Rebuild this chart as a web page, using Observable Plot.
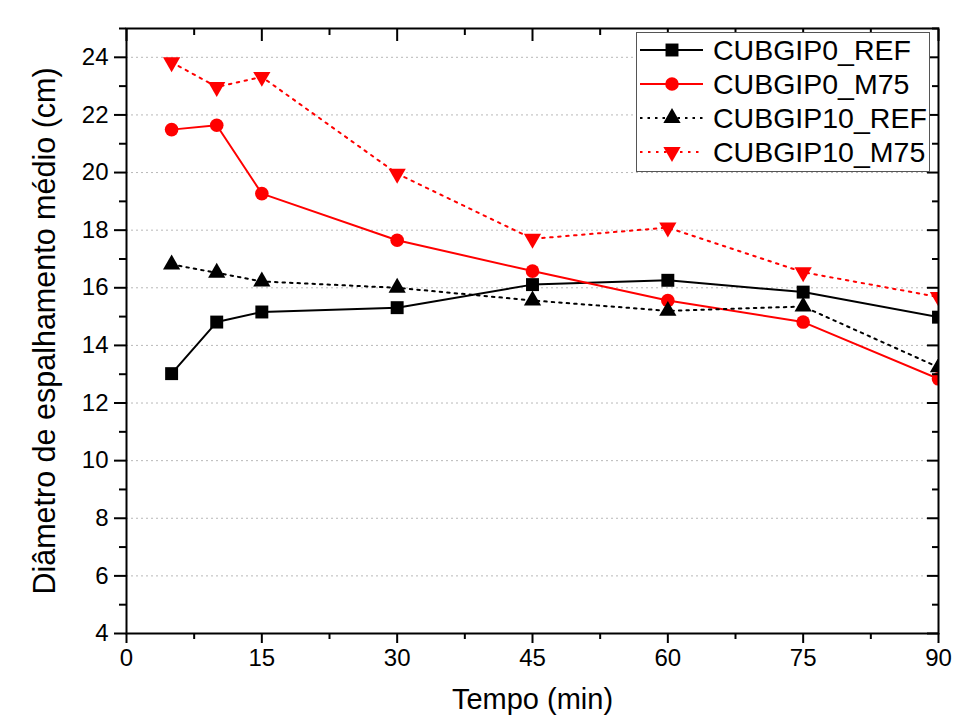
<!DOCTYPE html>
<html>
<head>
<meta charset="utf-8">
<script src="https://cdn.jsdelivr.net/npm/d3@7"></script>
<script src="https://cdn.jsdelivr.net/npm/@observablehq/plot@0.6"></script>
<style>
  html, body { margin: 0; padding: 0; background: #fff; }
  #wrap { position: relative; width: 954px; height: 715px; overflow: hidden; font-family: "Liberation Sans", Arial, sans-serif; }
  #legend { position: absolute; left: 636px; top: 32px; }
</style>
</head>
<body>
<div id="wrap"></div>
<script>
// ---- data ----
const times = [5, 10, 15, 30, 45, 60, 75, 90];
const cubgip0Ref = [13.02, 14.81, 15.16, 15.31, 16.11, 16.26, 15.85, 14.98];
const cubgip0M75 = [21.49, 21.64, 19.27, 17.65, 16.58, 15.56, 14.81, 12.84];
const cubgip10Ref = [16.81, 16.52, 16.22, 16.0, 15.56, 15.2, 15.35, 13.24];
const cubgip10M75 = [23.83, 22.97, 23.32, 19.96, 17.7, 18.09, 16.54, 15.68];
const seriesNames = ["CUBGIP0_REF", "CUBGIP0_M75", "CUBGIP10_REF", "CUBGIP10_M75"];
const xTicks = [0, 15, 30, 45, 60, 75, 90];
const xMinorTicks = [7.5, 22.5, 37.5, 52.5, 67.5, 82.5];
const yTicks = [4, 6, 8, 10, 12, 14, 16, 18, 20, 22, 24];
const yMinorTicks = [5, 7, 9, 11, 13, 15, 17, 19, 21, 23, 25];
const xLabel = "Tempo (min)";
const yLabel = "Diâmetro de espalhamento médio (cm)";

// ---- styles ----
const sqrt3 = Math.sqrt(3);
const triangleDown = {
  draw(context, size) {
    const y = -Math.sqrt(size / (sqrt3 * 3));
    context.moveTo(0, -y * 2);
    context.lineTo(-sqrt3 * y, y);
    context.lineTo(sqrt3 * y, y);
    context.closePath();
  }
};
const styles = [
  {color: "#000", dash: null, symbol: "square", r: 7.3},
  {color: "#f00", dash: null, symbol: "circle", r: 6.8},
  {color: "#000", dash: "2.5,5", symbol: "triangle", r: 6.4},
  {color: "#f00", dash: "2.5,5.5", symbol: triangleDown, r: 6.4}
];
const allValues = [cubgip0Ref, cubgip0M75, cubgip10Ref, cubgip10M75];
const seriesData = allValues.map((vals, i) => times.map((t, j) => ({x: t, y: vals[j], series: seriesNames[i]})));

const font = "'Liberation Sans', Arial, sans-serif";

const marks = [
  Plot.gridY(yTicks, {stroke: "#b8b8b8", strokeOpacity: 1, strokeWidth: 1, strokeDasharray: "2,3"}),
];
seriesData.forEach((d, i) => {
  const s = styles[i];
  marks.push(Plot.line(d, {x: "x", y: "y", stroke: s.color, strokeWidth: 2, strokeDasharray: s.dash, clip: true}));
});
seriesData.forEach((d, i) => {
  const s = styles[i];
  marks.push(Plot.dot(d, {x: "x", y: "y", fill: s.color, stroke: "none", symbol: s.symbol, r: s.r, clip: true}));
});
marks.push(
  Plot.frame({stroke: "#000", strokeWidth: 2}),
  Plot.axisX(xTicks, {anchor: "bottom", tickSize: 10, tickPadding: 5, strokeWidth: 2, fontSize: 24, tickFormat: d => String(d),
    label: xLabel, labelAnchor: "center", labelOffset: 75, labelArrow: "none"}),
  Plot.axisX(xMinorTicks, {anchor: "bottom", tickSize: 6, strokeWidth: 2, text: null, label: null}),
  Plot.axisX(xTicks, {anchor: "top", tickSize: -12, strokeWidth: 2, text: null, label: null}),
  Plot.axisX(xMinorTicks, {anchor: "top", tickSize: -6, strokeWidth: 2, text: null, label: null}),
  Plot.axisY(yTicks, {anchor: "left", tickSize: 12, tickPadding: 6, strokeWidth: 2, fontSize: 24, tickFormat: d => String(d),
    label: yLabel, labelAnchor: "center", labelOffset: 93, labelArrow: "none"}),
  Plot.axisY(yMinorTicks, {anchor: "left", tickSize: 7, strokeWidth: 2, text: null, label: null}),
  Plot.axisY(yTicks, {anchor: "right", tickSize: -12, strokeWidth: 2, text: null, label: null}),
  Plot.axisY(yMinorTicks, {anchor: "right", tickSize: -7, strokeWidth: 2, text: null, label: null})
);

const chart = Plot.plot({
  width: 954,
  height: 715,
  marginLeft: 126,
  marginRight: 16,
  marginTop: 28,
  marginBottom: 82,
  style: {fontFamily: font, fontSize: "24px", color: "#000", background: "#fff", overflow: "hidden"},
  x: {domain: [0, 90]},
  y: {domain: [4, 25]},
  marks
});
// axis label sizes
d3.select(chart).selectAll("g[aria-label='x-axis label'] text").attr("font-size", 29);
d3.select(chart).selectAll("g[aria-label='y-axis label'] text").attr("font-size", 30.5);
document.getElementById("wrap").appendChild(chart);

// ---- legend (overlay) ----
const lw = 294, lh = 140, rowH = 34, row0 = 18;
const legend = d3.select("#wrap").append("svg")
  .attr("id", "legend").attr("width", lw).attr("height", lh)
  .style("font-family", font);
legend.append("rect").attr("x", 0.5).attr("y", 0.5).attr("width", lw - 1).attr("height", lh - 1)
  .attr("fill", "#fff").attr("stroke", "#555").attr("stroke-width", 1);
seriesNames.forEach((name, i) => {
  const s = styles[i];
  const cy = row0 + i * rowH;
  const g = legend.append("g").attr("transform", `translate(0,${cy})`);
  g.append("line").attr("x1", 4).attr("x2", 67).attr("y1", 0).attr("y2", 0)
    .attr("stroke", s.color).attr("stroke-width", 2).attr("stroke-dasharray", s.dash);
  const symType = s.symbol === "square" ? d3.symbolSquare : s.symbol === "circle" ? d3.symbolCircle : s.symbol === "triangle" ? d3.symbolTriangle : s.symbol;
  g.append("path").attr("transform", "translate(36,0)")
    .attr("d", d3.symbol(symType, Math.PI * s.r * s.r)()).attr("fill", s.color);
  g.append("text").attr("x", 77).attr("y", 0).attr("dy", "0.36em")
    .attr("font-size", 28.5).attr("fill", "#000").text(name);
});
</script>
</body>
</html>
